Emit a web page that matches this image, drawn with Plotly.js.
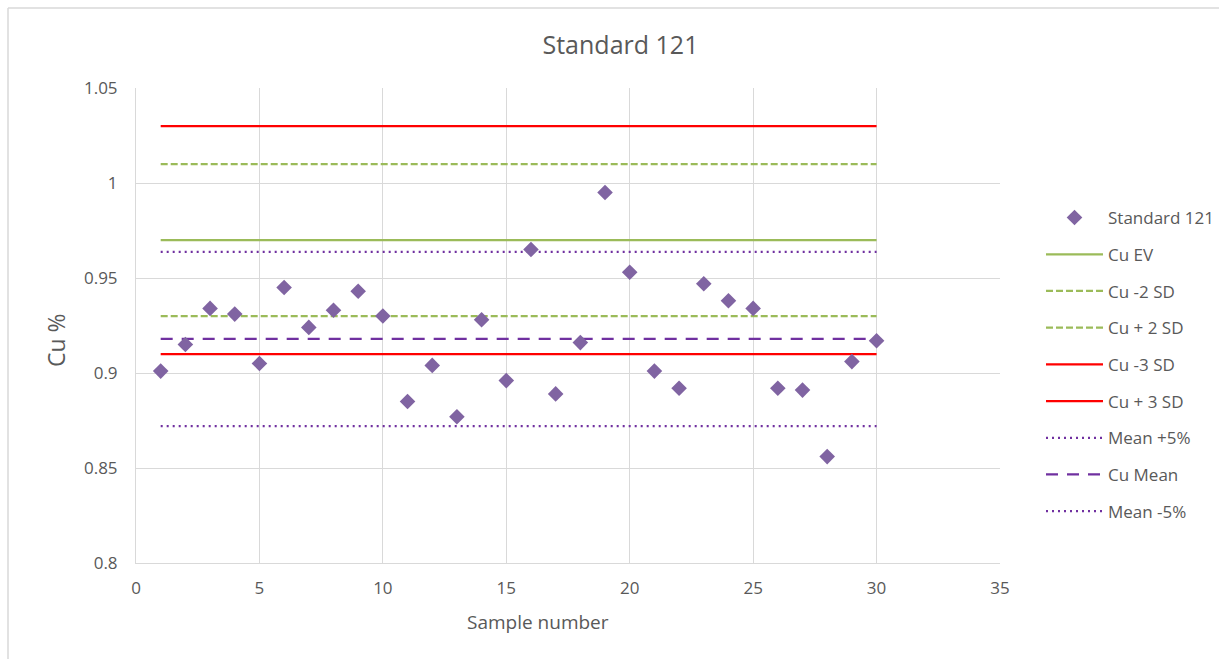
<!DOCTYPE html>
<html>
<head>
<meta charset="utf-8">
<script src="https://cdn.plot.ly/plotly-3.0.1.min.js"></script>
<style>
  html, body { margin: 0; padding: 0; background: #ffffff; }
  #chart { width: 1219px; height: 659px; }
</style>
</head>
<body>
<div id="chart"></div>
<script>
// ---- Data ----
const sampleNumbers = [1,2,3,4,5,6,7,8,9,10,11,12,13,14,15,16,17,18,19,20,21,22,23,24,25,26,27,28,29,30];
const cuValues = [0.901,0.915,0.934,0.931,0.905,0.945,0.924,0.933,0.943,0.930,
                  0.885,0.904,0.877,0.928,0.896,0.965,0.889,0.916,0.995,0.953,
                  0.901,0.892,0.947,0.938,0.934,0.892,0.891,0.856,0.906,0.917];

// Reference lines (drawn from first to last sample)
const lineNames  = ["Cu EV", "Cu -2 SD", "Cu + 2 SD", "Cu -3 SD", "Cu + 3 SD", "Mean +5%", "Cu Mean", "Mean -5%"];
const lineValues = [0.97,    0.93,       1.01,        0.91,       1.03,        0.9638,     0.918,     0.8721];
const lineX      = [1, 30];

const xTickVals = [0, 5, 10, 15, 20, 25, 30, 35];
const yTickVals = [0.8, 0.85, 0.9, 0.95, 1, 1.05];
const yTickText = ["0.8", "0.85", "0.9", "0.95", "1", "1.05"];

// ---- Styles ----
const GREEN = "#9BBB59", RED = "#FF0000", PURPLE = "#7030A0", MARKER = "#8064A2";
const lineStyles = [
  {color: GREEN,  dash: "solid"},
  {color: GREEN,  dash: "7px,3px"},
  {color: GREEN,  dash: "7px,3px"},
  {color: RED,    dash: "solid"},
  {color: RED,    dash: "solid"},
  {color: PURPLE, dash: "2px,4px"},
  {color: PURPLE, dash: "12px,9px"},
  {color: PURPLE, dash: "2px,4px"}
];

const traces = [];
lineNames.forEach(function(name, i) {
  traces.push({
    type: "scatter", mode: "lines", name: name,
    x: lineX, y: lineX.map(function(){ return lineValues[i]; }),
    line: {color: lineStyles[i].color, dash: lineStyles[i].dash, width: 2.25},
    legendgroup: "g" + (i + 1), legendrank: i + 2,
    hoverinfo: "skip"
  });
});
traces.push({
  type: "scatter", mode: "markers", name: "Standard 121",
  x: sampleNumbers, y: cuValues,
  marker: {symbol: "diamond", size: 12, color: MARKER},
  legendgroup: "g0", legendrank: 1
});

const FONT = "'Open Sans', 'Liberation Sans', sans-serif";
const TXT = "#595959";
const GRID = "#d9d9d9";

// Plot-area geometry in pixels (for paper conversion of positioned items)
const L = 136, R = 219, T = 88, B = 96, W = 1219, H = 659;
const pw = W - L - R, ph = H - T - B;
function px2x(p) { return (p - L) / pw; }
function px2y(p) { return (H - B - p) / ph; }

const layout = {
  width: W, height: H,
  margin: {l: L, r: R, t: T, b: B, pad: 0, autoexpand: false},
  paper_bgcolor: "#ffffff", plot_bgcolor: "#ffffff",
  font: {family: FONT, color: TXT, size: 17},
  showlegend: true,
  title: {text: "Standard 121", font: {family: FONT, size: 25, color: TXT},
          x: 0.509, xref: "container", xanchor: "center",
          y: 1 - 45 / H, yref: "container", yanchor: "middle"},
  xaxis: {
    range: [0, 35], tickvals: xTickVals, ticks: "", showgrid: true, gridcolor: GRID, gridwidth: 1,
    zeroline: false, showline: true, linecolor: GRID, linewidth: 1,
    tickfont: {family: FONT, size: 17, color: TXT}, ticklabelstandoff: 10,
    title: {text: ""}
  },
  yaxis: {
    range: [0.8, 1.05], tickvals: yTickVals, ticktext: yTickText, ticks: "", showgrid: true, gridcolor: GRID, gridwidth: 1,
    zeroline: false, showline: true, linecolor: GRID, linewidth: 1,
    tickfont: {family: FONT, size: 17, color: TXT}, ticklabelstandoff: 14,
    title: {text: ""}
  },
  legend: {
    x: px2x(1041), xanchor: "left", y: px2y(200), yanchor: "top",
    font: {family: FONT, size: 17, color: TXT},
    tracegroupgap: 11.6, itemwidth: 57, bgcolor: "rgba(0,0,0,0)", borderwidth: 0
  },
  annotations: [
    {text: "Sample number", xref: "paper", yref: "paper", x: px2x(538), y: px2y(622),
     xanchor: "center", yanchor: "middle", showarrow: false,
     font: {family: FONT, size: 19, color: TXT}},
    {text: "Cu %", xref: "paper", yref: "paper", x: px2x(56), y: px2y(340),
     xanchor: "center", yanchor: "middle", showarrow: false, textangle: -90,
     font: {family: FONT, size: 23, color: TXT}}
  ],
  shapes: [
    {type: "line", xref: "paper", yref: "paper", x0: px2x(8), x1: px2x(1225), y0: px2y(8), y1: px2y(8),
     line: {color: GRID, width: 1.5}},
    {type: "line", xref: "paper", yref: "paper", x0: px2x(8), x1: px2x(8), y0: px2y(8), y1: px2y(665),
     line: {color: GRID, width: 1.5}}
  ]
};

Plotly.newPlot("chart", traces, layout, {displayModeBar: false, staticPlot: true});
</script>
</body>
</html>
